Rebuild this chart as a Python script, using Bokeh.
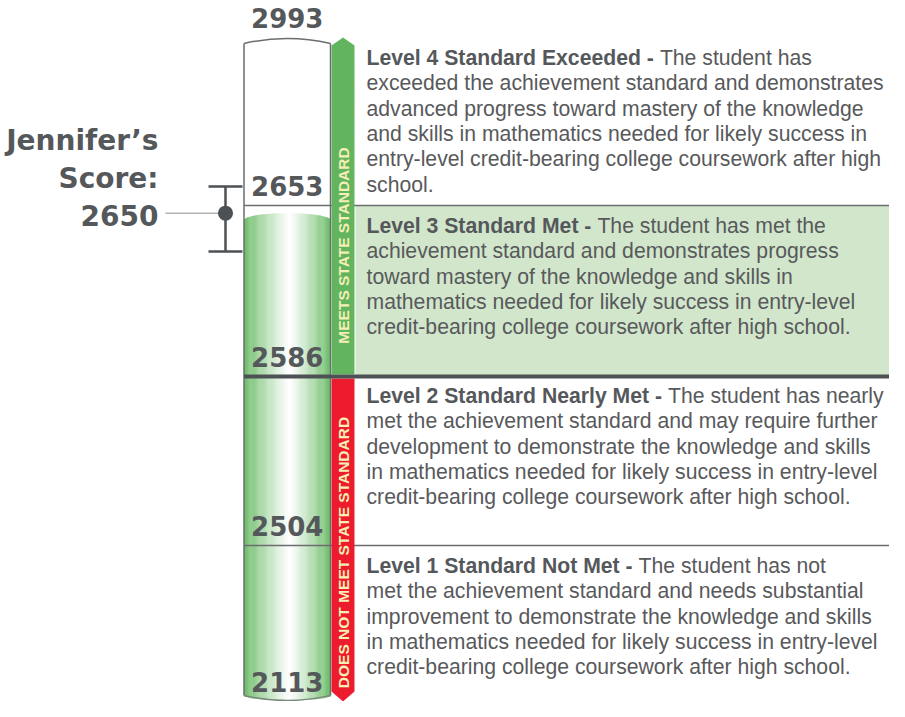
import numpy as np
from bokeh.plotting import figure
from bokeh.models import Range1d
from bokeh.core.properties import value
from bokeh.embed import file_html
from bokeh.resources import INLINE

# ---------------- data ----------------
cut_scores = [2113, 2504, 2586, 2653, 2993]
level_titles = ["Level 1 Standard Not Met", "Level 2 Standard Nearly Met",
                "Level 3 Standard Met", "Level 4 Standard Exceeded"]
level1_text = ["The student has not",
               "met the achievement standard and needs substantial",
               "improvement to demonstrate the knowledge and skills",
               "in mathematics needed for likely success in entry-level",
               "credit-bearing college coursework after high school."]
level2_text = ["The student has nearly",
               "met the achievement standard and may require further",
               "development to demonstrate the knowledge and skills",
               "in mathematics needed for likely success in entry-level",
               "credit-bearing college coursework after high school."]
level3_text = ["The student has met the",
               "achievement standard and demonstrates progress",
               "toward mastery of the knowledge and skills in",
               "mathematics needed for likely success in entry-level",
               "credit-bearing college coursework after high school."]
level4_text = ["The student has",
               "exceeded the achievement standard and demonstrates",
               "advanced progress toward mastery of the knowledge",
               "and skills in mathematics needed for likely success in",
               "entry-level credit-bearing college coursework after high",
               "school."]
group_labels = ["DOES NOT MEET STATE STANDARD", "MEETS STATE STANDARD"]
student_label = ["Jennifer\u2019s", "Score:"]
student_score = 2650
score_band = [2635, 2692]

# ---------------- layout ----------------
W, H = 889, 701
BAND_TOPS = [695, 545, 376, 205, 40]  # screen rows of the level boundaries


def Y(ref):
    return H - ref


def ypos(s):
    return np.interp(s, cut_scores, [Y(r) for r in BAND_TOPS])


CL, CR = 243.5, 330.0
CX = (CL + CR) / 2
TXT_X = 366
GRAY = "#55585b"
TXT = "#58595b"
LINE = "#6b6d70"
DARK = "#4d5154"
GREEN = "#62b45e"
RED = "#ec1c2e"
PALE = "#f4efb4"
PANEL = "#d1e6cb"

p = figure(width=W, height=H, x_range=Range1d(0, W), y_range=Range1d(0, H),
           output_backend="svg", toolbar_location=None,
           x_axis_location=None, y_axis_location=None, min_border=0)
p.grid.visible = False
p.outline_line_color = None
p.background_fill_color = "white"
p.border_fill_color = "white"

lv = ypos(cut_scores)

# level 3 panel
p.quad(left=[355], right=[W], bottom=[lv[2]], top=[lv[3]],
       fill_color=PANEL, line_color=None)

# liquid (horizontal gradient drawn as thin strips)
N = 96
edges = np.linspace(CL, CR, N + 1)
mids = (edges[:-1] + edges[1:]) / 2
u = (mids - CX) / ((CR - CL) / 2)
s = np.sqrt(np.clip(1 - u ** 2, 0, 1))
top = ypos(student_score) - (1 - s) * 7
bottom = lv[0] - s * 5
hl = 289.0
t = np.where(mids < hl, (hl - mids) / (hl - CL), (mids - hl) / (CR - hl))
g = np.clip(t, 0, 1) ** 1.1
edge_rgb = np.array([108, 188, 104])
cols = ["#%02x%02x%02x" % tuple(int(round(255 * (1 - gi) + e * gi)) for e in edge_rgb)
        for gi in g]
p.quad(left=edges[:-1], right=edges[1:] + 0.35, top=top, bottom=bottom,
       fill_color=cols, line_color=None)

# thin level lines
for k in (1, 3):
    p.segment(x0=[CL], y0=[lv[k]], x1=[W], y1=[lv[k]], line_color=LINE, line_width=1.5)

# cylinder outline
p.segment(x0=[CL, CR], y0=[lv[0], lv[0]], x1=[CL, CR], y1=[lv[4] - 3, lv[4] - 3],
          line_color=LINE, line_width=1.5)
p.quadratic(x0=[CL], y0=[lv[4] - 3], x1=[CR], y1=[lv[4] - 3], cx=[CX], cy=[lv[4] + 7],
            line_color=LINE, line_width=1.5)
p.quadratic(x0=[CL], y0=[lv[0]], x1=[CR], y1=[lv[0]], cx=[CX], cy=[lv[0] - 10],
            line_color="#7a8a7a", line_width=1.5)

# arrows
AL, AR = 331.0, 354.0
AM = (AL + AR) / 2
p.patch(x=[AL, AL, AM, AR, AR],
        y=[lv[2] + 2, lv[4] - 5, lv[4] + 3, lv[4] - 5, lv[2] + 2],
        fill_color=GREEN, line_color=None)
p.patch(x=[AL, AR, AR, AM, AL],
        y=[lv[2] - 2, lv[2] - 2, lv[0] + 4, lv[0] - 6, lv[0] + 4],
        fill_color=RED, line_color=None)

# thick line between level 2 and level 3
p.segment(x0=[CL], y0=[lv[2]], x1=[W], y1=[lv[2]], line_color=DARK, line_width=4)

# vertical group labels
p.text(x=[AM, AM], y=[Y(552), Y(245)], text=group_labels, angle=np.pi / 2,
       text_align="center", text_baseline="middle",
       text_font=value("Liberation Sans"), text_font_style="bold",
       text_font_size="15.5px", text_color=PALE)

# cut score labels (raised above their boundary line)
raise_px = [14, 20, 20, 20, 23]
p.text(x=[CX] * len(cut_scores), y=[v + r for v, r in zip(lv, raise_px)],
       text=[str(c) for c in cut_scores], text_align="center",
       text_baseline="alphabetic", text_font=value("DejaVu Sans"),
       text_font_style="bold", text_font_size="26px", text_color=GRAY)

# student score marker
sy = ypos(student_score)
p.segment(x0=[165], y0=[sy], x1=[225], y1=[sy], line_color="#b3b3b3", line_width=1.5)
b_lo, b_hi = ypos(score_band)
p.segment(x0=[225, 208, 208], y0=[b_lo, b_lo, b_hi], x1=[225, 242, 242], y1=[b_hi, b_lo, b_hi],
          line_color=DARK, line_width=2.5)
p.scatter(x=[225], y=[sy], size=15, marker="circle", fill_color=DARK, line_color=None)
p.text(x=[158] * 3, y=[sy + 73, sy + 35, sy - 2], text=student_label + [str(student_score)],
       text_align="right", text_baseline="alphabetic",
       text_font=value("DejaVu Sans"), text_font_style="bold",
       text_font_size="28px", text_color=GRAY)

# descriptions
FS = 21.2
BOLD_W = {' ': 278, '-': 333, 'L': 611, 'e': 556, 'v': 556, 'l': 278, 'S': 667, 't': 333,
          'a': 556, 'n': 611, 'd': 611, 'r': 389, 'E': 667, 'x': 556, 'c': 556, 'M': 833,
          'N': 722, 'y': 556, 'o': 611}
for ch in "0123456789":
    BOLD_W[ch] = 556

texts = [level1_text, level2_text, level3_text, level4_text]
first_gap = [20, 19, 20, 17]
bx, by, bt = [], [], []
rx, ry, rt, ro = [], [], [], []
for k, lines in enumerate(texts):
    top_ref = BAND_TOPS[k + 1]
    lead = level_titles[k] + " - "
    lead_w = sum(BOLD_W.get(c, 556) for c in lead) * FS / 1000.0
    for i, ln in enumerate(lines):
        yy = Y(top_ref + first_gap[k] + i * 25.3)
        if i == 0:
            bx.append(TXT_X); by.append(yy); bt.append(lead)
            rx.append(TXT_X); ry.append(yy); rt.append(ln); ro.append(lead_w)
        else:
            rx.append(TXT_X); ry.append(yy); rt.append(ln); ro.append(0)

p.text(x=bx, y=by, text=bt, text_align="left", text_baseline="middle",
       text_font=value("Liberation Sans"), text_font_style="bold",
       text_font_size=f"{FS}px", text_color=GRAY)
p.text(x=rx, y=ry, text=rt, x_offset=ro, text_align="left", text_baseline="middle",
       text_font=value("Liberation Sans"), text_font_size=f"{FS}px", text_color=TXT)

open("out.html", "w").write(file_html(p, INLINE))
